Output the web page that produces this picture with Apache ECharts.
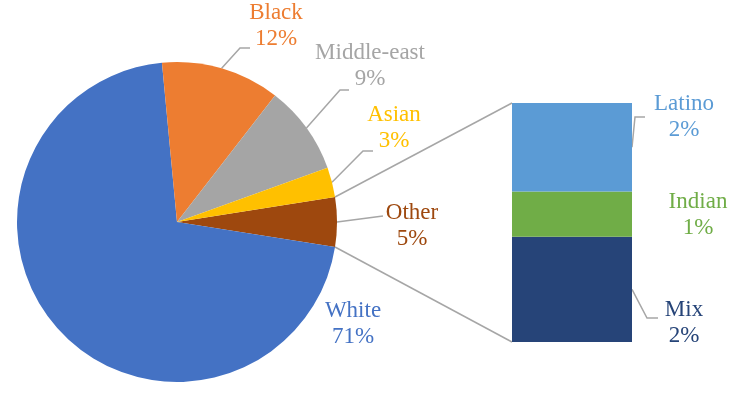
<!DOCTYPE html>
<html><head><meta charset="utf-8">
<script src="https://cdn.jsdelivr.net/npm/echarts@6/dist/echarts.min.js"></script>
<style>html,body{margin:0;padding:0;background:#fff}#c{width:731px;height:400px}</style>
</head><body><div id="c"></div>
<script>
// ---- data ----
const pieCategories = ['Other', 'White', 'Black', 'Middle-east', 'Asian'];
const pieValues = [5, 71, 12, 9, 3];
const barCategories = ['Mix', 'Indian', 'Latino'];   // bottom -> top
const barValues = [2.2, 0.95, 1.85];

// ---- styles / layout ----
const pieColors = ['#9E480E', '#4472C4', '#ED7D31', '#A5A5A5', '#FFC000'];
const barColors = ['#264478', '#70AD47', '#5B9BD5'];
const FONT = 'Liberation Serif, Times New Roman, serif';
const FS = 23, LH = 26;
const LINE = '#A6A6A6';
const CX = 177, CY = 222, R = 160;
const GRID = { left: 512, top: 103, width: 120, height: 239 };
const pieLabelPlace = {
  'Black':       { x: 276, y: 26,  line: [[240, 48], [250, 48]] },
  'Middle-east': { x: 370, y: 66,  line: [[340, 90], [349, 90]] },
  'Asian':       { x: 394, y: 128, line: [[363, 151], [373, 151]] },
  'Other':       { x: 412, y: 226, line: [[360, 219], [383, 216]] },
  'White':       { x: 353, y: 324 }
};
const barLabelPlace = {
  'Latino': { x: 684, y: 117, line: [[635, 117], [645, 117]] },
  'Indian': { x: 698, y: 215 },
  'Mix':    { x: 684, y: 323, line: [[647, 318], [658, 318]] }
};

const otherAngle = pieValues[0] / pieValues.reduce((a, b) => a + b, 0) * 360;
const total = barValues.reduce((a, b) => a + b, 0);

const chart = echarts.init(document.getElementById('c'), null, { renderer: 'canvas' });

const pieData = pieCategories.map((n, i) => ({
  name: n, value: pieValues[i],
  itemStyle: { color: pieColors[i] },
  label: { color: pieColors[i] },
  labelLine: { show: !!pieLabelPlace[n].line }
}));

const barSeries = barCategories.map((n, i) => ({
  name: n, type: 'bar', stack: 'sub', barWidth: '100%',
  data: [barValues[i]],
  itemStyle: { color: barColors[i] },
  label: {
    show: true, position: 'right', color: barColors[i],
    fontFamily: FONT, fontSize: FS, lineHeight: LH,
    formatter: p => p.seriesName + '\n' + Math.round(p.value) + '%'
  },
  labelLayout: () => {
    const pl = barLabelPlace[n];
    return { x: pl.x, y: pl.y, align: 'center', verticalAlign: 'middle' };
  },
  silent: true
}));

chart.setOption({
  animation: false,
  backgroundColor: '#fff',
  grid: { left: GRID.left, top: GRID.top, width: GRID.width, height: GRID.height },
  xAxis: { type: 'category', data: [''], show: false },
  yAxis: { type: 'value', min: 0, max: total, show: false, splitLine: { show: false } },
  series: [
    {
      type: 'pie', center: [CX, CY], radius: R,
      startAngle: otherAngle / 2, clockwise: true,
      avoidLabelOverlap: false, silent: true,
      data: pieData,
      label: {
        show: true, position: 'outside', fontFamily: FONT, fontSize: FS, lineHeight: LH,
        formatter: p => p.name + '\n' + Math.round(p.percent) + '%'
      },
      labelLine: { show: true, length: 20, length2: 10, lineStyle: { color: LINE, width: 1.5 } },
      labelLayout: params => {
        const name = pieCategories[params.dataIndex];
        const pl = pieLabelPlace[name];
        const res = { x: pl.x, y: pl.y, align: 'center', verticalAlign: 'middle' };
        if (pl.line && params.labelLinePoints) {
          res.labelLinePoints = [params.labelLinePoints[0], pl.line[0], pl.line[1]];
        }
        return res;
      }
    },
    ...barSeries
  ]
});

// connectors and bar leader lines, computed from the laid-out pie and bar
const a = otherAngle / 2 * Math.PI / 180;
const pTop = [CX + R * Math.cos(a), CY - R * Math.sin(a)];
const pBot = [CX + R * Math.cos(a), CY + R * Math.sin(a)];
const barTop = chart.convertToPixel({ xAxisIndex: 0, yAxisIndex: 0 }, [0, total]);
const barBot = chart.convertToPixel({ xAxisIndex: 0, yAxisIndex: 0 }, [0, 0]);
const barL = GRID.left, barR = GRID.left + GRID.width;
const graphics = [
  { type: 'line', shape: { x1: pTop[0], y1: pTop[1], x2: barL, y2: barTop[1] }, style: { stroke: LINE, lineWidth: 1.5 }, z: 1 },
  { type: 'line', shape: { x1: pBot[0], y1: pBot[1], x2: barL, y2: barBot[1] }, style: { stroke: LINE, lineWidth: 1.5 }, z: 1 }
];
let cum = 0;
barCategories.forEach((n, i) => {
  const mid = cum + barValues[i] / 2;
  cum += barValues[i];
  const pl = barLabelPlace[n];
  if (!pl.line) return;
  const s = chart.convertToPixel({ xAxisIndex: 0, yAxisIndex: 0 }, [0, mid]);
  graphics.push({
    type: 'polyline',
    shape: { points: [[barR, s[1]], pl.line[0], pl.line[1]] },
    style: { stroke: LINE, lineWidth: 1.5, fill: null }, z: 1
  });
});
chart.setOption({ graphic: graphics });
</script>
</body></html>
